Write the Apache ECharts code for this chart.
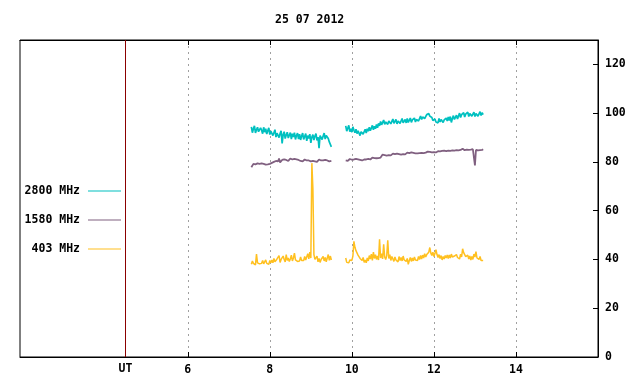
<!DOCTYPE html>
<html><head><meta charset="utf-8">
<script src="https://cdn.jsdelivr.net/npm/echarts@6/dist/echarts.min.js"></script>
<style>html,body{margin:0;padding:0;background:#fff}#c{width:640px;height:384px}</style>
</head><body><div id="c"></div>
<script>
const chartTitle = '25 07 2012';
const seriesNames = ['2800 MHz', '1580 MHz', '403 MHz'];
const seriesColors = ['#00c0c0', '#806080', '#ffc020'];
const xTicks = [6, 8, 10, 12, 14];
const yTicks = [0, 20, 40, 60, 80, 100, 120];
const utHour = 4.48;
const xRange = [1.91, 16];
const yRange = [0, 130];

// time of day (UT hours); 9.700 marks the data gap
const hours = [
  7.550,7.575,7.600,7.625,7.650,7.675,7.700,7.725,7.750,7.775,
  7.800,7.825,7.850,7.875,7.900,7.925,7.950,7.975,8.000,8.025,
  8.050,8.075,8.100,8.125,8.150,8.175,8.200,8.225,8.250,8.275,
  8.300,8.325,8.350,8.375,8.400,8.425,8.450,8.475,8.500,8.525,
  8.550,8.575,8.600,8.625,8.650,8.675,8.700,8.725,8.750,8.775,
  8.800,8.825,8.850,8.875,8.900,8.925,8.950,8.975,9.000,9.025,
  9.050,9.075,9.100,9.125,9.150,9.175,9.200,9.225,9.250,9.275,
  9.300,9.325,9.350,9.375,9.400,9.425,9.450,9.475,9.500,
  9.700,
  9.850,9.875,9.900,9.925,9.950,9.975,10.000,10.025,10.050,10.075,
  10.100,10.125,10.150,10.175,10.200,10.225,10.250,10.275,10.300,10.325,
  10.350,10.375,10.400,10.425,10.450,10.475,10.500,10.525,10.550,10.575,
  10.600,10.625,10.650,10.675,10.700,10.725,10.750,10.775,10.800,10.825,
  10.850,10.875,10.900,10.925,10.950,10.975,11.000,11.025,11.050,11.075,
  11.100,11.125,11.150,11.175,11.200,11.225,11.250,11.275,11.300,11.325,
  11.350,11.375,11.400,11.425,11.450,11.475,11.500,11.525,11.550,11.575,
  11.600,11.625,11.650,11.675,11.700,11.725,11.750,11.775,11.800,11.825,
  11.850,11.875,11.900,11.925,11.950,11.975,12.000,12.025,12.050,12.075,
  12.100,12.125,12.150,12.175,12.200,12.225,12.250,12.275,12.300,12.325,
  12.350,12.375,12.400,12.425,12.450,12.475,12.500,12.525,12.550,12.575,
  12.600,12.625,12.650,12.675,12.700,12.725,12.750,12.775,12.800,12.825,
  12.850,12.875,12.900,12.925,12.950,12.975,13.000,13.025,13.050,13.075,
  13.100,13.125,13.150,13.175,13.200
];

const flux2800 = [
  94.4,92.0,93.6,94.8,91.9,93.2,94.2,92.4,91.8,94.0,
  93.0,91.6,94.2,92.2,93.6,91.4,92.8,94.0,91.2,92.6,
  93.4,90.8,92.0,93.2,90.2,91.8,92.6,90.0,91.6,92.8,
  87.6,91.2,92.4,89.6,91.0,92.2,89.8,90.6,92.0,89.4,
  91.6,90.2,92.0,89.2,90.8,91.8,89.4,91.4,89.0,90.6,
  91.8,89.2,90.4,91.6,88.6,90.8,89.6,91.4,87.8,90.2,
  91.2,89.0,90.6,91.6,88.8,90.2,85.6,90.8,91.4,89.2,
  90.6,91.8,89.4,90.8,91.6,89.6,88.2,89.0,86.2,
  null,
  94.8,92.6,93.8,95.0,92.4,93.6,92.2,94.4,93.0,92.0,
  93.4,91.6,92.8,93.6,90.8,92.4,93.2,91.4,92.0,93.4,
  91.8,93.6,92.6,94.2,92.8,93.4,95.0,93.2,94.6,93.6,
  95.4,94.0,95.8,94.8,96.6,95.2,96.0,97.2,95.4,96.4,
  97.2,95.4,96.8,97.4,95.6,96.6,97.6,95.8,96.2,97.4,
  95.6,96.8,97.6,95.8,96.4,97.8,96.0,96.6,97.4,96.0,
  97.8,96.2,97.0,98.0,96.2,97.2,96.6,98.0,96.4,97.4,
  98.2,96.8,97.8,98.8,97.4,98.4,99.2,97.8,98.6,99.4,
  98.6,99.8,98.8,99.4,98.2,97.0,96.2,97.6,96.4,97.2,
  96.0,97.8,96.4,97.4,98.0,96.2,97.2,96.6,98.0,96.8,
  98.4,97.0,98.6,96.2,97.8,99.0,97.4,98.2,99.2,97.6,
  98.8,100.0,98.2,99.4,98.6,100.2,98.4,99.6,98.8,100.4,
  98.6,99.8,100.6,98.8,99.6,100.4,98.6,99.8,100.6,98.8,
  99.6,100.6,99.0,100.2,99.4
];

const flux1580 = [
  77.8,78.6,79.2,78.4,79.0,78.6,79.4,78.8,79.2,78.6,
  79.4,78.8,79.2,79.8,78.9,79.4,79.0,79.6,79.2,78.8,
  79.6,79.2,80.0,79.4,80.4,79.6,80.2,81.4,79.8,80.4,
  80.8,80.2,81.0,80.4,80.8,81.2,80.4,80.9,81.4,80.6,
  81.0,80.4,81.2,80.6,81.0,80.2,80.8,81.2,80.4,80.8,
  80.2,80.8,81.0,80.4,80.6,79.8,80.6,81.0,80.2,80.8,
  80.4,81.0,80.2,80.8,80.0,80.6,81.0,80.2,80.6,79.8,
  80.6,80.2,80.8,80.0,80.6,81.0,80.2,80.6,80.4,
  null,
  80.6,81.0,80.4,80.8,81.2,80.6,80.9,80.4,81.0,80.7,
  81.2,80.6,81.0,81.4,80.8,81.2,80.6,81.3,81.0,81.4,
  81.0,81.5,81.2,81.6,81.0,81.4,81.8,81.3,81.6,82.0,
  81.5,81.9,81.6,82.0,81.8,82.6,83.0,82.4,82.8,83.2,
  82.6,83.0,82.8,83.2,82.7,83.0,83.4,82.8,83.2,83.0,
  83.4,82.9,83.2,83.6,83.0,83.4,83.2,83.6,83.1,83.5,
  83.8,83.2,83.6,83.4,83.9,83.3,83.7,84.0,83.5,83.8,
  83.5,83.9,83.6,84.1,83.7,84.0,83.6,84.2,83.8,84.0,
  84.2,83.8,84.1,84.4,83.9,84.2,84.0,84.3,83.9,84.2,
  84.4,84.0,84.3,84.1,84.5,84.2,84.6,84.1,84.4,84.2,
  84.6,84.3,84.5,84.2,84.7,84.4,84.6,84.3,84.8,84.5,
  84.7,84.4,84.9,84.5,85.4,84.6,84.8,84.5,85.0,84.6,
  84.9,84.6,85.0,84.7,85.2,84.8,78.6,84.9,85.2,84.7,
  85.1,84.8,85.3,84.9,85.2
];

const flux403 = [
  38.0,39.4,38.4,39.0,37.8,42.2,38.6,39.4,38.2,39.0,
  38.4,39.6,38.2,38.8,39.8,38.4,39.2,38.0,39.6,38.6,
  39.8,38.6,40.4,39.0,38.6,40.2,39.4,41.6,38.8,40.0,
  39.2,41.4,40.0,39.0,42.0,39.6,40.6,39.2,40.2,41.8,
  39.4,40.6,42.6,39.8,40.4,39.2,40.0,39.4,41.0,39.6,
  40.4,39.6,41.2,39.8,40.6,42.4,40.2,43.0,40.6,79.5,
  69.0,42.0,40.0,39.2,41.4,39.0,40.4,38.8,40.0,39.4,
  41.2,39.4,40.8,39.0,40.6,42.0,39.6,41.4,39.8,
  null,
  40.6,38.8,39.4,38.6,39.8,40.2,39.6,41.4,47.4,45.0,
  43.6,44.2,41.8,42.6,40.4,41.2,39.6,40.8,38.8,39.8,
  38.6,40.6,39.4,41.6,40.2,42.2,39.6,43.0,40.4,42.0,
  40.0,41.4,39.8,48.3,40.6,42.4,40.2,46.2,41.0,40.0,
  41.6,47.9,40.4,42.0,39.6,41.2,40.4,39.2,41.0,39.8,
  40.6,39.0,41.2,39.6,40.8,39.4,41.4,39.8,40.6,39.2,
  40.4,38.0,39.6,40.8,39.2,40.6,39.4,41.0,39.8,40.4,
  39.6,41.2,40.0,41.6,40.2,41.8,40.6,42.4,41.0,42.0,
  41.4,43.0,44.9,42.6,41.6,43.0,41.2,42.4,44.0,42.0,
  40.8,42.0,40.4,41.6,39.8,41.2,40.2,41.6,40.6,41.8,
  40.4,41.8,40.6,42.2,41.0,40.2,41.4,40.6,42.0,40.8,
  41.4,40.2,42.2,41.0,44.4,42.8,43.4,41.2,40.4,41.8,
  40.2,41.4,39.8,41.2,40.0,42.2,41.0,43.2,40.6,41.4,
  40.0,41.2,39.6,40.4,39.6
];

const FONT = 'DejaVu Sans Mono';
const values = [flux2800, flux1580, flux403];
const lineWidths = [1.7, 1.8, 1.5];
const chart = echarts.init(document.getElementById('c'), null, {renderer: 'canvas'});

const series = seriesNames.map((name, k) => ({
  name: name,
  type: 'line',
  xAxisIndex: 0,
  yAxisIndex: 0,
  data: hours.map((h, i) => [h, values[k][i]]),
  showSymbol: false,
  symbol: 'none',
  connectNulls: false,
  lineStyle: {color: seriesColors[k], width: lineWidths[k]},
  itemStyle: {color: seriesColors[k]},
  z: 3 + k
}));
series[0].markLine = {
  silent: true,
  symbol: 'none',
  animation: false,
  lineStyle: {color: '#8b0000', type: 'solid', width: 1},
  label: {show: true, position: 'start', formatter: 'UT', distance: 6,
    color: '#000', fontFamily: FONT, fontWeight: 'bold', fontSize: 11.5},
  data: [{xAxis: utHour}]
};

chart.setOption({
  animation: false,
  backgroundColor: '#fff',
  title: {
    text: chartTitle, left: 270, top: 9,
    textStyle: {fontFamily: FONT, fontWeight: 'bold', fontSize: 11.5, color: '#000'}
  },
  legend: {
    orient: 'vertical',
    left: 19, top: 179,
    align: 'right',
    icon: 'rect',
    itemWidth: 33, itemHeight: 1,
    itemGap: 15,
    selectedMode: false,
    data: seriesNames,
    textStyle: {fontFamily: FONT, fontWeight: 'bold', fontSize: 11.5, color: '#000',
      width: 56, align: 'right', lineHeight: 14, padding: [0, 3, 0, 0]}
  },
  grid: {left: 20, right: 42, top: 40, bottom: 27, show: true,
    borderColor: '#000', borderWidth: 1, backgroundColor: 'transparent'},
  xAxis: [{
    type: 'value', position: 'bottom', min: xRange[0], max: xRange[1],
    axisLine: {show: true, lineStyle: {color: '#000'}},
    axisTick: {show: true, inside: true, length: 5, customValues: xTicks, lineStyle: {color: '#000'}},
    axisLabel: {show: true, customValues: xTicks, margin: 7, color: '#000',
      fontFamily: FONT, fontWeight: 'bold', fontSize: 11.5},
    splitLine: {show: true, lineStyle: {color: '#a0a0a0', type: [2, 4], width: 1}}
  }, {
    type: 'value', position: 'top', min: xRange[0], max: xRange[1],
    axisLine: {show: true, lineStyle: {color: '#000'}},
    axisTick: {show: true, inside: true, length: 5, customValues: xTicks, lineStyle: {color: '#000'}},
    axisLabel: {show: false},
    splitLine: {show: false}
  }],
  yAxis: [{
    type: 'value', position: 'right', min: yRange[0], max: yRange[1],
    axisLine: {show: true, lineStyle: {color: '#000'}},
    axisTick: {show: true, inside: true, length: 5, customValues: yTicks, lineStyle: {color: '#000'}},
    axisLabel: {show: true, customValues: yTicks, margin: 7, color: '#000',
      fontFamily: FONT, fontWeight: 'bold', fontSize: 11.5},
    splitLine: {show: false}
  }],
  series: series
});
</script>
</body></html>
